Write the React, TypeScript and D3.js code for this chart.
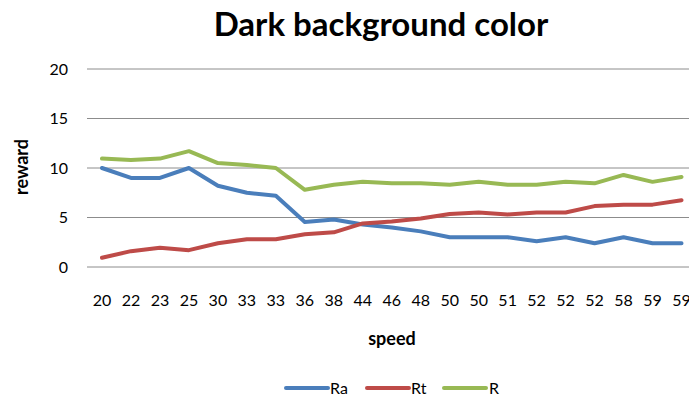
import React from "react";
import * as d3 from "d3";

const categories = ["20","22","23","25","30","33","33","36","38","44","46","48","50","50","51","52","52","52","58","59","59"];
const ra = [10,9,9,10,8.2,7.5,7.2,4.55,4.8,4.3,4.0,3.6,3.0,3.0,3.0,2.6,3.0,2.4,3.0,2.4,2.4];
const rt = [0.94,1.6,1.95,1.7,2.4,2.8,2.8,3.3,3.5,4.4,4.6,4.9,5.35,5.5,5.3,5.5,5.5,6.15,6.3,6.3,6.75];
const r = [10.95,10.8,10.95,11.7,10.5,10.3,10.0,7.8,8.3,8.6,8.45,8.45,8.3,8.6,8.3,8.3,8.6,8.45,9.3,8.6,9.1];
const yTicks = [0,5,10,15,20];
const seriesNames = ["Ra","Rt","R"];
const colors = ["#4a7ebb","#be4b48","#98b954"];

const W = 689, H = 398;
const FONT = "Lato, 'Open Sans', sans-serif";

export default function App() {
  const x = d3.scalePoint<string>().domain(categories.map((_, i) => String(i))).range([87.5, 696]).padding(0.5);
  const y = d3.scaleLinear().domain([0, 20]).range([267, 69]);
  const series = [ra, rt, r];
  const line = d3.line<number>().x((_, i) => x(String(i))!).y(d => y(d));
  const legendX = [286, 367, 444];
  const legendTextX = [330, 411, 489];
  return (
    <svg width={W} height={H} style={{ position: "absolute", left: 0, top: 0, background: "#fff" }}>
      <rect width={W} height={H} fill="#fff" />
      <text x={381} y={36} textAnchor="middle" fontFamily={FONT} fontWeight="bold" fontSize={33} fill="#000">Dark background color</text>
      {yTicks.map(t => (
        <g key={t}>
          <line x1={87} x2={W} y1={y(t)} y2={y(t)} stroke="#8c8c8c" strokeWidth={1} />
          <text x={68} y={y(t)} dy="0.35em" textAnchor="end" fontFamily={FONT} fontSize={16} fill="#000">{t}</text>
        </g>
      ))}
      {categories.map((c, i) => (
        <text key={i} x={x(String(i))!} y={300} dy="0.35em" textAnchor="middle" fontFamily={FONT} fontSize={16} fill="#000">{c}</text>
      ))}
      <text transform={`translate(22,167) rotate(-90)`} textAnchor="middle" dy="0.35em" fontFamily={FONT} fontWeight="bold" fontSize={18} fill="#000">reward</text>
      <text x={392} y={339} dy="0.35em" textAnchor="middle" fontFamily={FONT} fontWeight="bold" fontSize={18} fill="#000">speed</text>
      {series.map((s, k) => (
        <path key={k} d={line(s)!} fill="none" stroke={colors[k]} strokeWidth={4} strokeLinejoin="round" strokeLinecap="round" />
      ))}
      {seriesNames.map((n, k) => (
        <g key={n}>
          <line x1={legendX[k]} x2={legendX[k] + 42} y1={388} y2={388} stroke={colors[k]} strokeWidth={4} strokeLinecap="round" />
          <text x={legendTextX[k]} y={388} dy="0.35em" fontFamily={FONT} fontSize={16} fill="#000">{n}</text>
        </g>
      ))}
    </svg>
  );
}
